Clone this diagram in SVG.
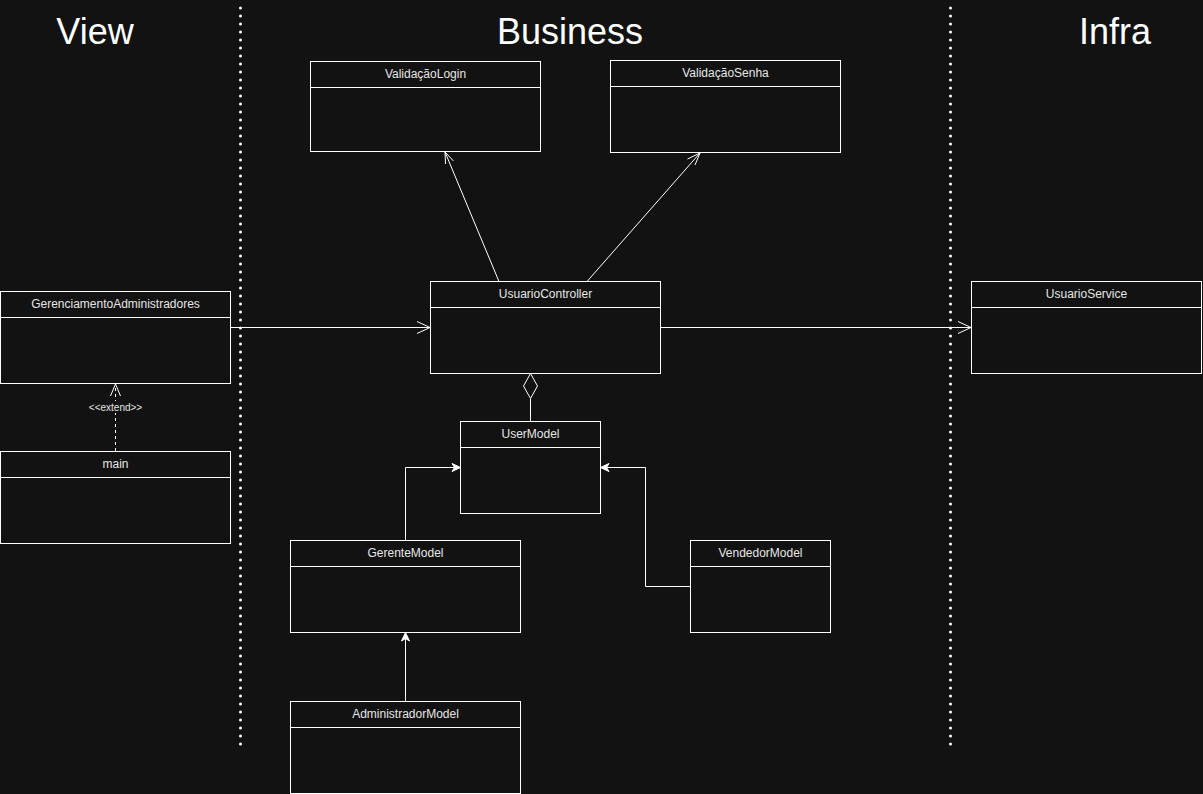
<svg xmlns="http://www.w3.org/2000/svg" width="1203" height="794" viewBox="0 0 1203 794">
<style>
.box{fill:#121212;stroke:#ffffff;stroke-width:1}
.hd{stroke:#ffffff;stroke-width:1}
.lbl{font-family:"Liberation Sans",Arial,sans-serif;font-size:12px;fill:#e6e6e6;text-anchor:middle}
.ttl{font-family:"Liberation Sans",Arial,sans-serif;font-size:36px;fill:#ffffff;text-anchor:middle}
.sep{stroke:#ffffff;stroke-width:3;stroke-dasharray:0 8;stroke-linecap:round;fill:none}
.ln{stroke:#ffffff;stroke-width:1;fill:none}
.open{stroke:#ffffff;stroke-width:1;fill:none}
.fill{fill:#ffffff;stroke:#ffffff;stroke-width:1}
</style>
<rect x="0" y="0" width="1203" height="794" fill="#121212"/>
<g id="lanes">
<line class="sep" x1="240.5" y1="8" x2="240.5" y2="745"/>
<line class="sep" x1="950.5" y1="8" x2="950.5" y2="745"/>
<text class="ttl" x="95" y="44">View</text>
<text class="ttl" x="570" y="44">Business</text>
<text class="ttl" x="1115" y="44">Infra</text>
</g>
<g id="connectors">
<!-- Gerenciamento -> UsuarioController -->
<line class="ln" x1="230.5" y1="327.5" x2="430" y2="327.5"/>
<path class="open" d="M417 321.5 L430 327.5 L417 333.5"/>
<!-- UsuarioController -> UsuarioService -->
<line class="ln" x1="660.5" y1="327.5" x2="971" y2="327.5"/>
<path class="open" d="M958 321.5 L971 327.5 L958 333.5"/>
<!-- main -> Gerenciamento extend -->
<line class="ln" x1="115.5" y1="451" x2="115.5" y2="384" stroke-dasharray="3 3"/>
<path class="open" d="M110.5 396 L115.5 384 L120.5 396"/>
<rect x="86" y="401" width="60" height="12" fill="#121212"/>
<text class="lbl" x="115.5" y="411" style="font-size:10px">&lt;&lt;extend&gt;&gt;</text>
<!-- UsuarioController -> ValidacaoLogin -->
<line class="ln" x1="499" y1="281.5" x2="445" y2="152"/>
<path class="open" d="M445.5 164 L445 152 L453.5 161"/>
<!-- UsuarioController -> ValidacaoSenha -->
<line class="ln" x1="587" y1="281.5" x2="700" y2="153"/>
<path class="open" d="M687.5 159 L700 153 L695 165"/>
<!-- aggregation -->
<path d="M530.5 373.5 L537.5 386 L530.5 398.5 L523.5 386 Z" fill="#121212" stroke="#ffffff" stroke-width="1"/>
<line class="ln" x1="530.5" y1="398.5" x2="530.5" y2="421.5"/>
<!-- GerenteModel -> UserModel -->
<path class="ln" d="M405.5 540.5 L405.5 467.5 L454 467.5"/>
<path class="fill" d="M452 463.5 L460.5 467.5 L452 471.5 L454.5 467.5 Z"/>
<!-- VendedorModel -> UserModel -->
<path class="ln" d="M690.5 586.5 L645.5 586.5 L645.5 467.5 L607 467.5"/>
<path class="fill" d="M609 463.5 L600.5 467.5 L609 471.5 L606.5 467.5 Z"/>
<!-- AdministradorModel -> GerenteModel -->
<line class="ln" x1="405.5" y1="701.5" x2="405.5" y2="639"/>
<path class="fill" d="M401.5 641 L405.5 632.5 L409.5 641 L405.5 638.5 Z"/>
</g>
<g id="GerenciamentoAdministradores">
<rect class="box" x="0.5" y="291.5" width="230" height="92"/>
<line class="hd" x1="0.5" y1="317.5" x2="230.5" y2="317.5"/>
<text class="lbl" x="115.5" y="308">GerenciamentoAdministradores</text>
</g>
<g id="main">
<rect class="box" x="0.5" y="451.5" width="230" height="92"/>
<line class="hd" x1="0.5" y1="477.5" x2="230.5" y2="477.5"/>
<text class="lbl" x="115.5" y="468">main</text>
</g>
<g id="ValidacaoLogin">
<rect class="box" x="310.5" y="61.5" width="230" height="90"/>
<line class="hd" x1="310.5" y1="87.5" x2="540.5" y2="87.5"/>
<text class="lbl" x="425.5" y="78">ValidaçãoLogin</text>
</g>
<g id="ValidacaoSenha">
<rect class="box" x="610.5" y="60.5" width="230" height="92"/>
<line class="hd" x1="610.5" y1="86.5" x2="840.5" y2="86.5"/>
<text class="lbl" x="725.5" y="77">ValidaçãoSenha</text>
</g>
<g id="UsuarioController">
<rect class="box" x="430.5" y="281.5" width="230" height="92"/>
<line class="hd" x1="430.5" y1="307.5" x2="660.5" y2="307.5"/>
<text class="lbl" x="545.5" y="298">UsuarioController</text>
</g>
<g id="UsuarioService">
<rect class="box" x="971.5" y="281.5" width="230" height="92"/>
<line class="hd" x1="971.5" y1="307.5" x2="1201.5" y2="307.5"/>
<text class="lbl" x="1086.5" y="298">UsuarioService</text>
</g>
<g id="UserModel">
<rect class="box" x="460.5" y="421.5" width="140" height="92"/>
<line class="hd" x1="460.5" y1="447.5" x2="600.5" y2="447.5"/>
<text class="lbl" x="530.5" y="438">UserModel</text>
</g>
<g id="GerenteModel">
<rect class="box" x="290.5" y="540.5" width="230" height="92"/>
<line class="hd" x1="290.5" y1="566.5" x2="520.5" y2="566.5"/>
<text class="lbl" x="405.5" y="557">GerenteModel</text>
</g>
<g id="VendedorModel">
<rect class="box" x="690.5" y="540.5" width="140" height="92"/>
<line class="hd" x1="690.5" y1="566.5" x2="830.5" y2="566.5"/>
<text class="lbl" x="760.5" y="557">VendedorModel</text>
</g>
<g id="AdministradorModel">
<rect class="box" x="290.5" y="701.5" width="230" height="92"/>
<line class="hd" x1="290.5" y1="727.5" x2="520.5" y2="727.5"/>
<text class="lbl" x="405.5" y="718">AdministradorModel</text>
</g>
</svg>
